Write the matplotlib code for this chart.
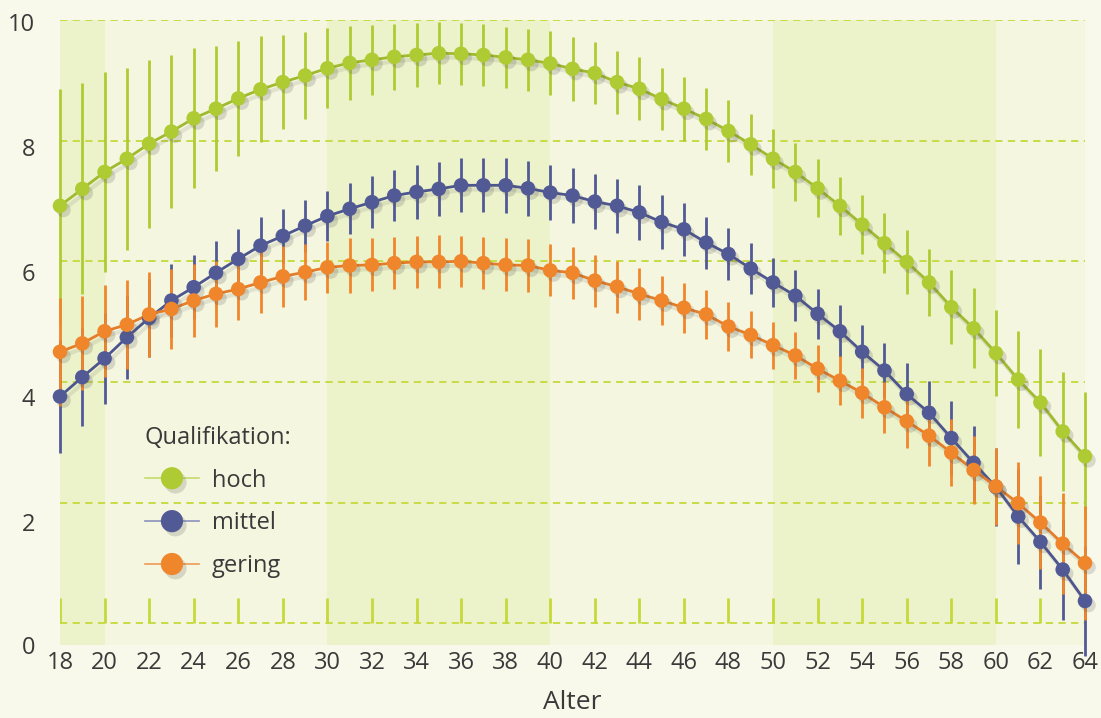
import numpy as np
import matplotlib.pyplot as plt
import matplotlib.patheffects as pe
from matplotlib.lines import Line2D

plt.rcParams['font.family'] = ['Open Sans', 'DejaVu Sans']

# Alter 18..64
alter = np.arange(18, 65)

hoch = [6.92, 7.20, 7.48, 7.70, 7.95, 8.15, 8.37, 8.53, 8.70, 8.85,
        8.97, 9.08, 9.20, 9.29, 9.34, 9.39, 9.42, 9.45, 9.44, 9.42,
        9.38, 9.34, 9.28, 9.19, 9.12, 8.97, 8.86, 8.69, 8.53, 8.36,
        8.16, 7.94, 7.70, 7.48, 7.21, 6.92, 6.61, 6.30, 5.99, 5.65,
        5.24, 4.89, 4.48, 4.04, 3.66, 3.18, 2.77]
hoch_err = [1.94, 1.75, 1.65, 1.51, 1.39, 1.27, 1.16, 1.04, 0.96, 0.88,
            0.78, 0.72, 0.66, 0.61, 0.58, 0.55, 0.53, 0.51, 0.51, 0.51,
            0.51, 0.51, 0.53, 0.53, 0.52, 0.52, 0.52, 0.52, 0.53, 0.51,
            0.51, 0.51, 0.49, 0.48, 0.48, 0.48, 0.49, 0.50, 0.53, 0.56,
            0.61, 0.66, 0.72, 0.80, 0.88, 0.98, 1.06]

mittel = [3.76, 4.08, 4.39, 4.74, 5.06, 5.35, 5.57, 5.81, 6.04, 6.26,
          6.42, 6.59, 6.75, 6.87, 6.98, 7.09, 7.15, 7.20, 7.26, 7.26,
          7.26, 7.21, 7.14, 7.09, 6.99, 6.92, 6.81, 6.65, 6.53, 6.31,
          6.12, 5.88, 5.65, 5.43, 5.13, 4.84, 4.50, 4.19, 3.80, 3.49,
          3.07, 2.66, 2.26, 1.77, 1.35, 0.89, 0.37]
mittel_err = [0.93, 0.81, 0.75, 0.69, 0.64, 0.61, 0.53, 0.52, 0.50, 0.47,
              0.45, 0.43, 0.42, 0.42, 0.43, 0.43, 0.45, 0.45, 0.45, 0.45,
              0.46, 0.46, 0.46, 0.46, 0.46, 0.45, 0.46, 0.45, 0.44, 0.43,
              0.43, 0.42, 0.41, 0.42, 0.41, 0.43, 0.45, 0.46, 0.51, 0.53,
              0.61, 0.61, 0.65, 0.79, 0.78, 0.84, 0.91]

gering = [4.50, 4.64, 4.84, 4.95, 5.12, 5.21, 5.35, 5.46, 5.54, 5.65,
          5.75, 5.82, 5.90, 5.93, 5.94, 5.97, 5.99, 5.99, 6.00, 5.97,
          5.94, 5.93, 5.85, 5.81, 5.68, 5.58, 5.46, 5.35, 5.23, 5.12,
          4.92, 4.78, 4.61, 4.44, 4.22, 4.02, 3.82, 3.58, 3.35, 3.11,
          2.83, 2.54, 2.27, 1.99, 1.67, 1.32, 1.00]
gering_err = [0.90, 0.78, 0.76, 0.74, 0.70, 0.66, 0.61, 0.55, 0.51, 0.50,
              0.50, 0.46, 0.42, 0.45, 0.44, 0.43, 0.43, 0.44, 0.42, 0.43,
              0.44, 0.44, 0.43, 0.43, 0.43, 0.43, 0.43, 0.41, 0.41, 0.41,
              0.40, 0.39, 0.39, 0.39, 0.39, 0.41, 0.41, 0.42, 0.45, 0.51,
              0.55, 0.56, 0.64, 0.68, 0.77, 0.84, 0.94]

labels = ['hoch', 'mittel', 'gering']
werte = [hoch, mittel, gering]
fehler = [hoch_err, mittel_err, gering_err]
farben = ['#AFCB33', '#525A96', '#F0862C']
linien = ['#9FBA2E', '#4D558E', '#E47D2A']
leg_linien = ['#C5DB6E', '#8C92BD', '#F09A55']

bg = '#F9F9EB'
grid_col = '#C6D93A'
txt = '#3A3A3A'

fig = plt.figure(figsize=(11.01, 7.18), dpi=100)
fig.patch.set_facecolor(bg)
ax = fig.add_axes([60 / 1101, 73 / 718, 1025 / 1101, 625 / 718])
ax.set_facecolor('#F4F6DF')
for a, b in [(18, 20), (30, 40), (50, 60)]:
    ax.axvspan(a, b, color='#ECF2CA', lw=0, zorder=0)

ax.set_xlim(18, 64)
ax.set_ylim(-0.35, 10)
for v in range(0, 11, 2):
    ax.axhline(v, color=grid_col, lw=1.3, ls=(0, (4, 3)), zorder=1)
ax.vlines(np.arange(18, 65, 2), 0, 0.42, color=grid_col, lw=2, zorder=1)

shadow_line = [pe.SimpleLineShadow(offset=(2, -3), shadow_color='#555555', alpha=0.12, linewidth=3), pe.Normal()]
shadow_mark = [pe.SimplePatchShadow(offset=(2.5, -3), shadow_rgbFace='#555555', alpha=0.2), pe.Normal()]

for i in [0, 1, 2]:
    ax.errorbar(alter, werte[i], yerr=fehler[i], fmt='none', ecolor=farben[i],
                elinewidth=2, capsize=0, zorder=2 + i * 0.1, clip_on=False)
for i in [0, 1, 2]:
    ax.plot(alter, werte[i], color=linien[i], lw=2, zorder=3 + i * 0.1,
            clip_on=False, path_effects=shadow_line)
    ax.plot(alter, werte[i], ls='none', marker='o', ms=10.5, color=farben[i],
            mec='none', zorder=4 + i * 0.1, clip_on=False, path_effects=shadow_mark)

for s in ax.spines.values():
    s.set_visible(False)

ax.set_xticks(np.arange(18, 65, 2))
ax.tick_params(axis='x', length=0, pad=4, labelsize=17, labelcolor=txt)
# Beschriftungen der y-Achse stehen im Original leicht versetzt zu den Gitterlinien
ytick_pos = [-0.36, 1.68, 3.75, 5.82, 7.9, 9.97]
ax.set_yticks(ytick_pos)
ax.set_yticklabels(['0', '2', '4', '6', '8', '10'])
ax.tick_params(axis='y', length=0, pad=18, labelsize=17, labelcolor=txt)
ax.set_xlabel('Alter', fontsize=19, color=txt, labelpad=11)

handles = [Line2D([], [], color=leg_linien[i], lw=1.2, marker='o', ms=16,
                  mfc=farben[i], mec='none', path_effects=shadow_mark)
           for i in range(3)]
leg = ax.legend(handles, labels, title='Qualifikation:', loc='upper left',
                bbox_to_anchor=(0.062, 0.385), frameon=False, fontsize=17,
                title_fontsize=17, handlelength=2.3, handletextpad=0.55,
                labelspacing=0.8, alignment='left')
for t in leg.get_texts():
    t.set_color(txt)
leg.get_title().set_color(txt)

fig.savefig('out.png', dpi=100, facecolor=bg)
